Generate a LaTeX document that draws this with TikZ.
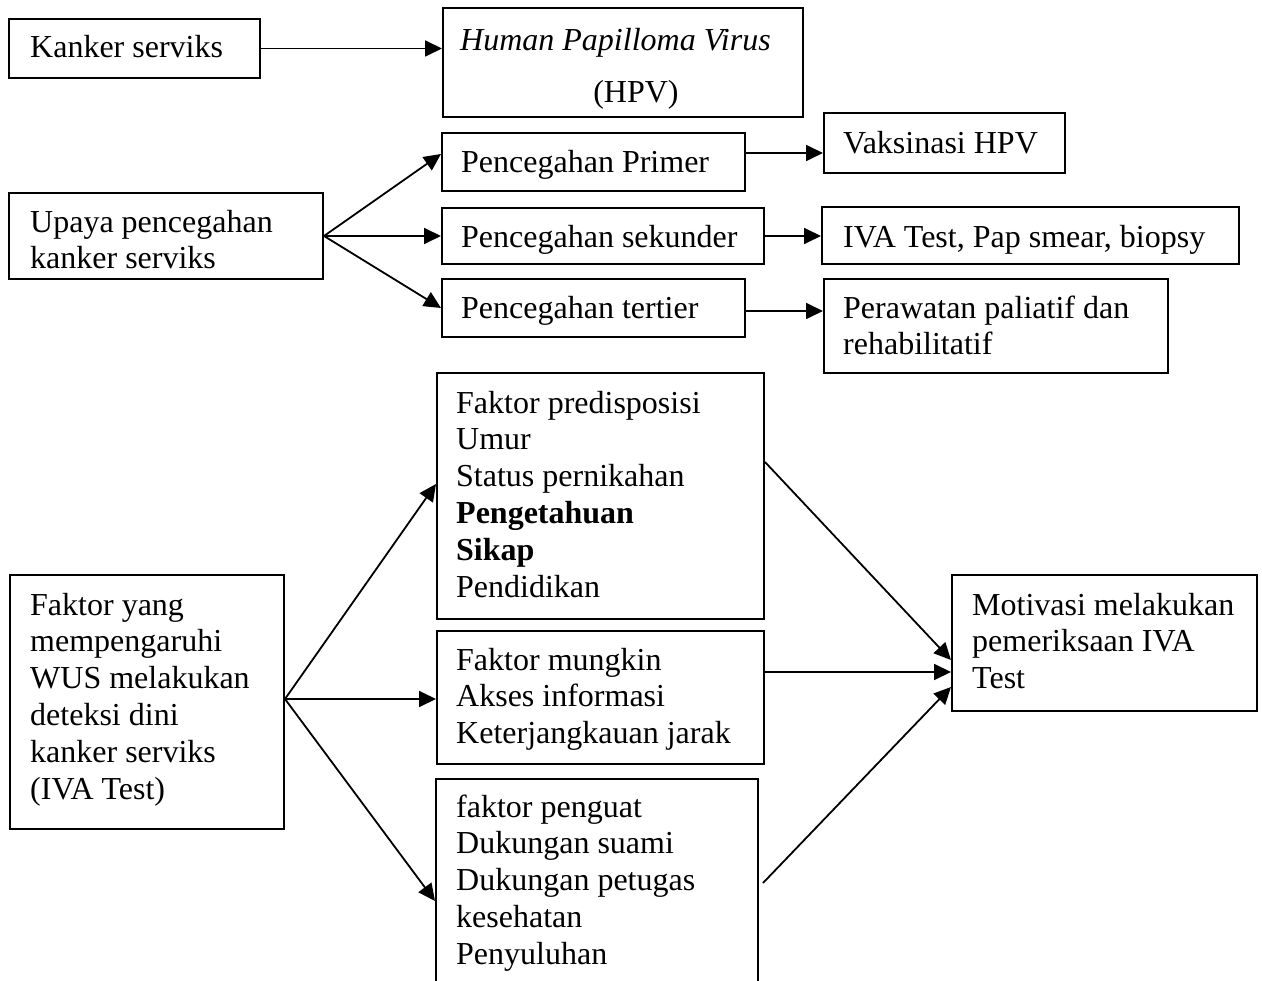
\documentclass[tikz,border=0pt]{standalone}
\usepackage{fontspec}
\setmainfont{Liberation Serif}
\usetikzlibrary{arrows.meta,calc}
\begin{document}
\begin{tikzpicture}[x=1pt,y=-1pt,
  box/.style={draw, line width=2pt, inner sep=0pt, anchor=north west},
  txt/.style={inner sep=0pt, anchor=north west, align=left, font=\fontsize{32}{36.8}\selectfont},
  arr/.style={line width=1.8pt, -{Triangle[length=17pt,width=16pt]}}
  ]
\useasboundingbox (0,0) rectangle (1262,981);
\clip (0,0) rectangle (1262,981);
\fill[white] (0,0) rectangle (1262,981);

% boxes
\node[box, minimum width=251pt, minimum height=59pt]  (kanker)  at (8,18) {};
\node[box, minimum width=360pt, minimum height=109pt] (hpv)     at (442,7) {};
\node[box, minimum width=314pt, minimum height=86pt]  (upaya)   at (8,192) {};
\node[box, minimum width=303pt, minimum height=58pt]  (primer)  at (441,132) {};
\node[box, minimum width=322pt, minimum height=56pt]  (sekunder) at (441,207) {};
\node[box, minimum width=303pt, minimum height=58pt]  (tertier) at (441,278) {};
\node[box, minimum width=241pt, minimum height=60pt]  (vaksin)  at (823,112) {};
\node[box, minimum width=417pt, minimum height=57pt]  (iva)     at (821,206) {};
\node[box, minimum width=344pt, minimum height=94pt]  (rawat)   at (823,278) {};
\node[box, minimum width=274pt, minimum height=254pt] (faktor)  at (9,574) {};
\node[box, minimum width=327pt, minimum height=246pt] (predis)  at (436,372) {};
\node[box, minimum width=327pt, minimum height=133pt] (mungkin) at (436,630) {};
\node[box, minimum width=322pt, minimum height=250pt] (penguat) at (435,778) {};
\node[box, minimum width=305pt, minimum height=136pt] (motiv)   at (951,574) {};

% texts
\node[txt] (tkanker) at (30,31.1) {\strut Kanker serviks};
\node[txt] (thpv1) at (460,24.1) {\strut\itshape Human Papilloma Virus};
\node[txt, anchor=north] (thpv2) at (636,76.1) {\strut (HPV)};
\node[txt] (tupaya) at (30,206.1) {\strut Upaya pencegahan\\kanker serviks};
\node[txt] (tprimer) at (461,146.1) {\strut Pencegahan Primer};
\node[txt] (tsek) at (461,221.1) {\strut Pencegahan sekunder};
\node[txt] (tter) at (461,292.1) {\strut Pencegahan tertier};
\node[txt] (tvak) at (843,127.1) {\strut Vaksinasi HPV};
\node[txt] (tiva) at (843,221.1) {\strut IVA Test, Pap smear, biopsy};
\node[txt] (trawat) at (843,292.1) {\strut Perawatan paliatif dan\\rehabilitatif};
\node[txt] (tpredis) at (456,387.1) {\strut Faktor predisposisi\\Umur\\Status pernikahan\\\textbf{Pengetahuan}\\\textbf{Sikap}\\Pendidikan};
\node[txt] (tmungkin) at (456,644.1) {\strut Faktor mungkin\\Akses informasi\\Keterjangkauan jarak};
\node[txt] (tpenguat) at (456,791.1) {\strut faktor penguat\\Dukungan suami\\Dukungan petugas\\kesehatan\\Penyuluhan};
\node[txt] (tfaktor) at (30,589.1) {\strut Faktor yang\\mempengaruhi\\WUS melakukan\\deteksi dini\\kanker serviks\\(IVA Test)};
\node[txt] (tmotiv) at (972,589.1) {\strut Motivasi melakukan\\pemeriksaan IVA\\Test};

% connectors
\draw[arr] (kanker.east) -- (kanker.east -| hpv.west);

\draw[arr] (upaya.east) -- ([yshift=8pt]primer.west);
\draw[arr] (upaya.east) -- (sekunder.west);
\draw[arr] (upaya.east) -- (tertier.west);

\coordinate (c1) at ([yshift=9pt]primer.east);
\draw[arr] (c1) -- (c1 -| vaksin.west);
\draw[arr] (sekunder.east) -- (sekunder.east -| iva.west);
\coordinate (c2) at ([yshift=-3pt]tertier.east);
\draw[arr] (c2) -- (c2 -| rawat.west);

\coordinate (f0) at ([yshift=3pt]faktor.east);
\draw[arr] (f0) -- ([yshift=12pt]predis.west);
\draw[arr] (f0) -- (f0 -| mungkin.west);
\draw[arr] (f0) -- ($(penguat.north west)+(0,123)$);

\draw[arr] ($(predis.north east)+(0,90)$) -- ($(motiv.north west)+(0,86)$);
\coordinate (m0) at ($(mungkin.north east)+(0,42)$);
\draw[arr] (m0) -- (m0 -| motiv.west);
\draw[arr] ($(penguat.north east)+(4,105)$) -- ($(motiv.north west)+(0,113)$);
\end{tikzpicture}
\end{document}
